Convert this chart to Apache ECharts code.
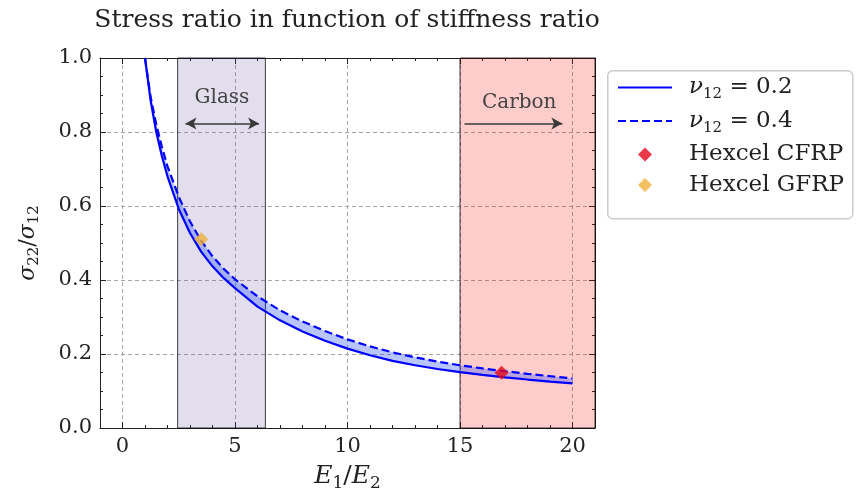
<!DOCTYPE html>
<html><head><meta charset="utf-8">
<script src="https://cdn.jsdelivr.net/npm/echarts@6/dist/echarts.min.js"></script>
<style>html,body{margin:0;padding:0;background:#fff}#c{width:862px;height:494px}</style>
</head><body><div id="c"></div>
<script>
// ---- data ----
const stiffnessRatio = [1, 1.25, 1.5, 1.75, 2, 2.5, 3, 3.5, 4, 4.5, 5, 6, 7, 8, 9, 10, 11, 12, 13, 14, 15, 16, 17, 18, 19, 20];
const stressNu02 = [1.0, 0.885, 0.80, 0.735, 0.68, 0.592, 0.527, 0.476, 0.437, 0.405, 0.378, 0.328, 0.291, 0.261, 0.236, 0.2145, 0.1965, 0.1815, 0.1695, 0.1595, 0.151, 0.1435, 0.137, 0.131, 0.1255, 0.1205];
const stressNu04 = [1.0, 0.895, 0.82, 0.76, 0.707, 0.625, 0.558, 0.506, 0.464, 0.43, 0.402, 0.356, 0.318, 0.288, 0.262, 0.2395, 0.2205, 0.2045, 0.191, 0.1795, 0.1695, 0.161, 0.1535, 0.1465, 0.14, 0.134];
const seriesNames = ['ν12 = 0.2', 'ν12 = 0.4', 'Hexcel CFRP', 'Hexcel GFRP'];
const cfrpPoint = [16.85, 0.149];
const gfrpPoint = [3.5, 0.51];
const glassRange = [2.45, 6.35];
const carbonRange = [15, 21];
const glassArrow = [[2.8, 0.823], [6.07, 0.823]];
const carbonArrow = [[15.2, 0.823], [19.55, 0.823]];
const glassLabel = [4.42, 0.892];
const carbonLabel = [17.63, 0.88];
const bandNames = ['Glass', 'Carbon'];
const xTickValues = [0, 5, 10, 15, 20];
const yTickLabels = ['0.0', '0.2', '0.4', '0.6', '0.8', '1.0'];
const titleText = 'Stress ratio in function of stiffness ratio';

// ---- styling ----
const FONT = 'DejaVu Serif';
const INK = '#222';
const bandFills = ['rgba(100,70,160,0.18)', 'rgba(255,0,0,0.2)'];
const diamondPath = 'path://M0,-1L1,0L0,1L-1,0Z';

const chart = echarts.init(document.getElementById('c'), null, {renderer: 'canvas'});

const gridBox = {left: 100, right: 267, top: 58, bottom: 66, outerBoundsMode: 'none', containLabel: false};
const tickLine = {color: INK, width: 1};
const dashGrid = {color: '#a6a6a6', width: 1, type: [4, 3]};

function richMath(main, sub) {
  return {
    i: {fontFamily: FONT, fontStyle: 'italic', fontSize: main, lineHeight: main + 6, color: INK},
    s: {fontFamily: FONT, fontSize: sub, lineHeight: sub, verticalAlign: 'bottom', color: INK},
    r: {fontFamily: FONT, fontSize: main, lineHeight: main + 6, color: INK},
    g: {width: 12, fontSize: main, lineHeight: main + 6}
  };
}

const bands = [
  [glassRange[0], glassRange[1], 0],
  [carbonRange[0], carbonRange[1], 1]
];

const option = {
  animation: false,
  backgroundColor: '#fff',
  title: {
    text: titleText, left: 342, top: 3, textAlign: 'center',
    textStyle: {fontFamily: FONT, fontWeight: 'normal', fontSize: 25, color: INK}
  },
  grid: [Object.assign({}, gridBox), Object.assign({}, gridBox)],
  xAxis: [
    {
      type: 'value', gridIndex: 0, position: 'bottom', min: -1, max: 21, splitNumber: 5,
      axisLine: {show: true, onZero: false, lineStyle: tickLine},
      axisTick: {show: true, inside: true, length: 6, lineStyle: tickLine},
      axisLabel: {margin: 8, fontFamily: FONT, fontSize: 21, color: INK,
        formatter: v => xTickValues.indexOf(v) >= 0 ? String(v) : ''},
      splitLine: {show: true, lineStyle: dashGrid},
      name: '{i|E}{s|1}{r|/}{i|E}{s|2}', nameLocation: 'middle', nameGap: 33,
      nameTextStyle: {rich: richMath(25, 17)}
    },
    {
      type: 'value', gridIndex: 0, position: 'top', min: -1, max: 21, splitNumber: 5,
      axisLine: {show: true, onZero: false, lineStyle: tickLine},
      axisTick: {show: true, inside: true, length: 6, lineStyle: tickLine},
      axisLabel: {show: false}, splitLine: {show: false}
    },
    {
      type: 'value', gridIndex: 1, position: 'bottom', min: -1, max: 21, interval: 1,
      axisLine: {show: false, onZero: false},
      axisTick: {show: true, inside: true, length: 3, lineStyle: tickLine},
      axisLabel: {show: false}, splitLine: {show: false}
    },
    {
      type: 'value', gridIndex: 1, position: 'top', min: -1, max: 21, interval: 1,
      axisLine: {show: false, onZero: false},
      axisTick: {show: true, inside: true, length: 3, lineStyle: tickLine},
      axisLabel: {show: false}, splitLine: {show: false}
    }
  ],
  yAxis: [
    {
      type: 'value', gridIndex: 0, position: 'left', min: 0, max: 1, interval: 0.2,
      axisLine: {show: true, onZero: false, lineStyle: tickLine},
      axisTick: {show: true, inside: true, length: 6, lineStyle: tickLine},
      minorTick: {show: true, splitNumber: 4, length: 3, lineStyle: tickLine},
      axisLabel: {margin: 8, fontFamily: FONT, fontSize: 21, color: INK,
        formatter: v => yTickLabels[Math.round(v / 0.2)]},
      splitLine: {show: true, lineStyle: dashGrid},
      name: '{i|σ}{s|22}{r|/}{i|σ}{s|12}', nameLocation: 'middle', nameGap: 58, nameRotate: 90,
      nameTextStyle: {rich: richMath(22, 15)}
    },
    {
      type: 'value', gridIndex: 0, position: 'right', min: 0, max: 1, interval: 0.2,
      axisLine: {show: true, onZero: false, lineStyle: tickLine},
      axisTick: {show: true, inside: true, length: 6, lineStyle: tickLine},
      minorTick: {show: true, splitNumber: 4, length: 3, lineStyle: tickLine},
      axisLabel: {show: false}, splitLine: {show: false}
    },
    {type: 'value', gridIndex: 1, min: 0, max: 1, show: false}
  ],
  legend: {
    orient: 'vertical', left: 617, top: 76, padding: 0,
    itemWidth: 54, itemHeight: 14, itemGap: 7.5, selectedMode: false,
    data: [
      {name: seriesNames[0], itemStyle: {opacity: 0, borderWidth: 0}},
      {name: seriesNames[1], itemStyle: {opacity: 0, borderWidth: 0}},
      {name: seriesNames[2], icon: diamondPath},
      {name: seriesNames[3], icon: diamondPath}
    ],
    textStyle: {fontFamily: FONT, fontSize: 23, color: INK, rich: richMath(23, 15)},
    formatter: function (name) {
      if (name.indexOf('ν12') === 0) {
        return '{g| }{i|ν}{s|12}{r|' + name.slice(3) + '}';
      }
      return '{g| }{r|' + name + '}';
    }
  },
  graphic: [{
    type: 'rect', left: 607, top: 70, z: 0, silent: true,
    shape: {width: 245, height: 148, r: 5},
    style: {fill: 'rgba(255,255,255,0.9)', stroke: '#cccccc', lineWidth: 1.5}
  }],
  series: [
    {
      type: 'custom', name: 'bands', xAxisIndex: 0, yAxisIndex: 0, z: 1, silent: true,
      data: bands,
      renderItem: function (params, api) {
        const p0 = api.coord([api.value(0), 1]);
        const p1 = api.coord([api.value(1), 0]);
        return {
          type: 'rect',
          shape: {x: p0[0], y: p0[1], width: p1[0] - p0[0], height: p1[1] - p0[1]},
          style: {fill: bandFills[api.value(2)], stroke: 'rgba(0,0,0,0.75)', lineWidth: 1}
        };
      }
    },
    {
      type: 'custom', name: 'between', xAxisIndex: 0, yAxisIndex: 0, z: 2, silent: true,
      data: stiffnessRatio.map((x, i) => [x, stressNu02[i], stressNu04[i]]),
      renderItem: function (params, api) {
        if (params.dataIndex !== 0) return null;
        const pts = [];
        for (let i = 0; i < stiffnessRatio.length; i++) pts.push(api.coord([stiffnessRatio[i], stressNu02[i]]));
        for (let i = stiffnessRatio.length - 1; i >= 0; i--) pts.push(api.coord([stiffnessRatio[i], stressNu04[i]]));
        return {type: 'polygon', shape: {points: pts}, style: {fill: 'rgba(40,80,255,0.33)'}};
      }
    },
    {
      type: 'line', name: seriesNames[0], xAxisIndex: 0, yAxisIndex: 0, z: 3,
      data: stiffnessRatio.map((x, i) => [x, stressNu02[i]]),
      symbol: 'none', color: '#0000ff',
      lineStyle: {color: '#0000ff', width: 2.2, type: 'solid'}
    },
    {
      type: 'line', name: seriesNames[1], xAxisIndex: 0, yAxisIndex: 0, z: 3,
      data: stiffnessRatio.map((x, i) => [x, stressNu04[i]]),
      symbol: 'none', color: '#0000ff',
      lineStyle: {color: '#0000ff', width: 2.2, type: [8, 4]}
    },
    {
      type: 'scatter', name: seriesNames[2], xAxisIndex: 0, yAxisIndex: 0, z: 5,
      data: [cfrpPoint], symbol: 'diamond', symbolSize: 14,
      itemStyle: {color: '#e5091b'}
    },
    {
      type: 'scatter', name: seriesNames[3], xAxisIndex: 0, yAxisIndex: 0, z: 5,
      data: [gfrpPoint], symbol: 'diamond', symbolSize: 14,
      itemStyle: {color: '#f0b23a'}
    },
    {
      type: 'line', name: 'annotations', xAxisIndex: 0, yAxisIndex: 0, z: 6, data: [],
      markLine: {
        silent: true, animation: false, symbolSize: [9, 11],
        lineStyle: {color: '#3a3a3a', width: 1.5, type: 'solid'},
        label: {show: false}, emphasis: {disabled: true},
        data: [
          [{coord: glassArrow[0], symbol: 'arrow'}, {coord: glassArrow[1], symbol: 'arrow'}],
          [{coord: carbonArrow[0], symbol: 'none'}, {coord: carbonArrow[1], symbol: 'arrow'}]
        ]
      },
      markPoint: {
        silent: true, animation: false, symbol: 'circle', symbolSize: 1,
        itemStyle: {color: 'rgba(0,0,0,0)'},
        label: {show: true, position: 'inside', formatter: '{b}', fontFamily: FONT, fontSize: 20, color: '#444'},
        data: [
          {name: bandNames[0], coord: glassLabel},
          {name: bandNames[1], coord: carbonLabel}
        ]
      }
    }
  ]
};
chart.setOption(option);
</script></body></html>
